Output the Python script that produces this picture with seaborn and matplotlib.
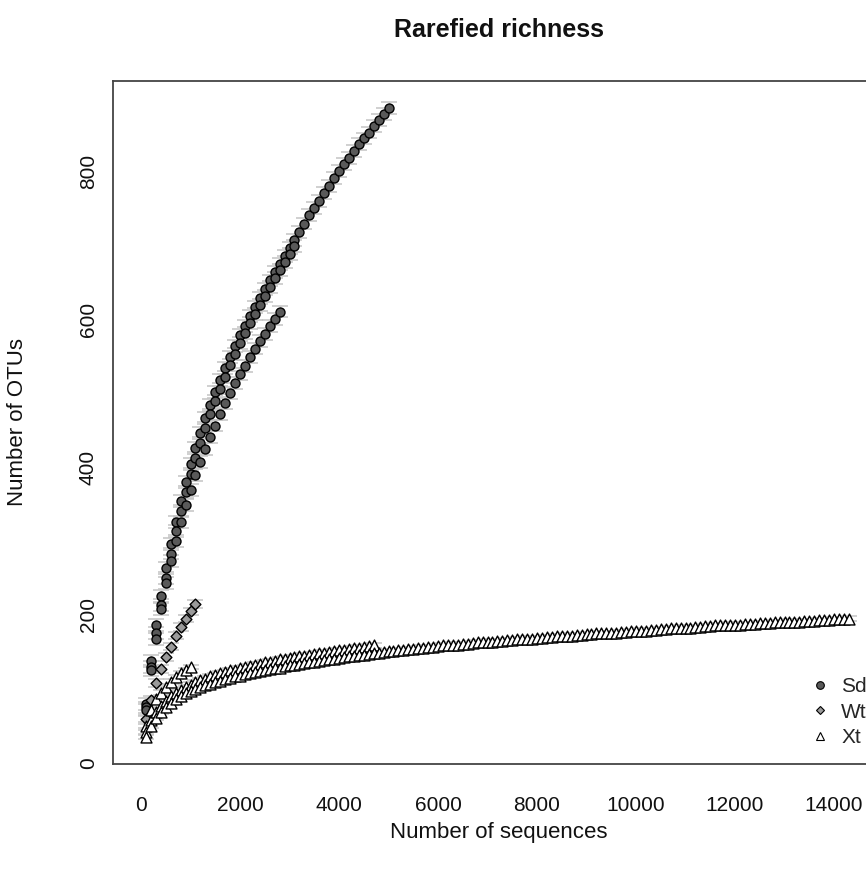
import matplotlib
matplotlib.use("Agg")
import matplotlib.pyplot as plt
from matplotlib.lines import Line2D
import pandas as pd
import seaborn as sns

# ---------------- data ----------------
depths = [
    100, 200, 300, 400, 500, 600, 700, 800, 900, 1000,
    1100, 1200, 1300, 1400, 1500, 1600, 1700, 1800, 1900, 2000,
    2100, 2200, 2300, 2400, 2500, 2600, 2700, 2800, 2900, 3000,
    3100, 3200, 3300, 3400, 3500, 3600, 3700, 3800, 3900, 4000,
    4100, 4200, 4300, 4400, 4500, 4600, 4700, 4800, 4900, 5000,
    5100, 5200, 5300, 5400, 5500, 5600, 5700, 5800, 5900, 6000,
    6100, 6200, 6300, 6400, 6500, 6600, 6700, 6800, 6900, 7000,
    7100, 7200, 7300, 7400, 7500, 7600, 7700, 7800, 7900, 8000,
    8100, 8200, 8300, 8400, 8500, 8600, 8700, 8800, 8900, 9000,
    9100, 9200, 9300, 9400, 9500, 9600, 9700, 9800, 9900, 10000,
    10100, 10200, 10300, 10400, 10500, 10600, 10700, 10800, 10900, 11000,
    11100, 11200, 11300, 11400, 11500, 11600, 11700, 11800, 11900, 12000,
    12100, 12200, 12300, 12400, 12500, 12600, 12700, 12800, 12900, 13000,
    13100, 13200, 13300, 13400, 13500, 13600, 13700, 13800, 13900, 14000,
    14100, 14200, 14300,
]

sd_1 = [80, 138, 186, 226, 263, 296, 326, 354, 380, 404,
        426, 446, 466, 484, 501, 518, 534, 549, 564, 578,
        591, 604, 616, 628, 640, 652, 663, 674, 685, 696,
        707, 718, 729, 740, 750, 760, 770, 780, 790, 800,
        809, 818, 827, 836, 844, 852, 861, 869, 877, 885]
sd_2 = [75, 130, 176, 213, 250, 283, 313, 340, 366, 390,
        412, 433, 453, 471, 489, 506, 522, 538, 553, 567,
        581, 594, 607, 619, 631, 643, 655, 666, 677, 688,
        699]
sd_3 = [72, 125, 167, 208, 243, 273, 300, 326, 349, 369,
        389, 407, 424, 441, 456, 471, 486, 500, 513, 526,
        537, 549, 560, 570, 580, 590, 600, 610]
wt_1 = [60, 85, 108, 127, 143, 157, 172, 184, 195, 205, 215]
xt_1 = [50, 72, 86, 95, 103, 110, 116, 121, 126, 130]
xt_2 = [42, 58, 69, 77, 84, 90, 95, 99, 103, 106,
        109, 112, 114, 117, 119, 121, 123, 125, 126, 128,
        130, 131, 133, 134, 136, 137, 138, 140, 141, 142,
        143, 144, 145, 146, 147, 148, 149, 150, 151, 152,
        153, 154, 155, 156, 157, 158, 159]
xt_3 = [35, 50, 61, 69, 76, 81, 86, 90, 94, 97,
        100, 103, 105, 107, 109, 111, 113, 115, 117, 118,
        120, 121, 123, 124, 126, 127, 128, 129, 131, 132,
        133, 134, 135, 136, 137, 138, 139, 140, 141, 142,
        143, 144, 145, 146, 146, 147, 148, 149, 150, 151,
        151, 152, 153, 154, 154, 155, 156, 157, 157, 158,
        159, 159, 160, 160, 161, 161, 162, 163, 163, 164,
        164, 165, 165, 166, 166, 167, 167, 168, 168, 169,
        169, 170, 170, 171, 171, 172, 172, 173, 173, 174,
        174, 175, 175, 176, 176, 176, 177, 177, 178, 178,
        179, 179, 180, 180, 181, 181, 182, 182, 183, 183,
        183, 184, 184, 185, 185, 186, 186, 186, 187, 187,
        187, 188, 188, 188, 189, 189, 189, 190, 190, 190,
        191, 191, 191, 192, 192, 192, 193, 193, 193, 194,
        194, 194, 195]

groups = ["Sd", "Wt", "Xt"]
ci_half = {"Sd": 8, "Wt": 5, "Xt": 3}   # approx. confidence half-width (OTUs)
x_ticks = [0, 2000, 4000, 6000, 8000, 10000, 12000, 14000]
y_ticks = [0, 200, 400, 600, 800]

curves = [("Sd", "Sd_1", sd_1), ("Sd", "Sd_2", sd_2), ("Sd", "Sd_3", sd_3),
          ("Wt", "Wt_1", wt_1),
          ("Xt", "Xt_1", xt_1), ("Xt", "Xt_2", xt_2), ("Xt", "Xt_3", xt_3)]
rows = []
for g, name, ys in curves:
    for d, v in zip(depths, ys):
        rows.append((g, name, d, v))
df = pd.DataFrame(rows, columns=["group", "sample", "depth", "otus"])

# ---------------- styling ----------------
sns.set_style("white")
plt.rcParams["font.family"] = ["Liberation Sans", "DejaVu Sans"]

markers = {"Sd": "o", "Wt": "D", "Xt": "^"}
fills = {"Sd": "#595959", "Wt": "#9a9a9a", "Xt": "#ffffff"}
sizes = {"Sd": 42, "Wt": 30, "Xt": 62}

W, H = 866, 871
fig = plt.figure(figsize=(W / 100, H / 100), dpi=100)
ax = fig.add_axes([113 / W, 1 - 764 / H, 772 / W, 683 / H])

for g in groups:
    sub = df[df.group == g]
    ax.errorbar(sub.depth, sub.otus, yerr=ci_half[g], fmt="none",
                ecolor="#c4c4c4", elinewidth=0.6, capsize=6, capthick=1.1,
                zorder=1)

for i, g in enumerate(groups):
    sub = df[df.group == g]
    sns.scatterplot(data=sub, x="depth", y="otus", marker=markers[g],
                    color=fills[g], edgecolor="black", linewidth=1.0,
                    s=sizes[g], legend=False, ax=ax, zorder=3 + i)

ax.set_xlim(-566, 15030)
ax.set_ylim(-1.4, 921.6)
ax.set_xticks(x_ticks)
ax.set_xticklabels([str(t) for t in x_ticks])
ax.set_yticks(y_ticks)
ax.set_yticklabels([str(t) for t in y_ticks], rotation=90, va="center")
ax.tick_params(axis="both", direction="out", length=10, width=1.1,
               color="#333333", labelsize=15, labelcolor="#111111")
ax.tick_params(axis="x", pad=13)
ax.tick_params(axis="y", pad=1)
for sp in ax.spines.values():
    sp.set_color("#444444")
    sp.set_linewidth(1.3)
ax.set_xlabel("")
ax.set_ylabel("")

fig.text(499 / W, 1 - 30 / H, "Rarefied richness", ha="center", va="center",
         fontsize=18, fontweight="bold", color="#111111")
fig.text(499 / W, 1 - 832 / H, "Number of sequences", ha="center",
         va="center", fontsize=16, color="#111111")
fig.text(18 / W, 1 - 422 / H, "Number of OTUs", ha="center", va="center",
         rotation=90, fontsize=16, color="#111111")

handles = [Line2D([], [], ls="", marker="o", mfc=fills["Sd"], mec="black",
                  mew=0.8, ms=5.5),
           Line2D([], [], ls="", marker="D", mfc=fills["Wt"], mec="black",
                  mew=0.8, ms=4.5),
           Line2D([], [], ls="", marker="^", mfc=fills["Xt"], mec="black",
                  mew=0.8, ms=6)]
fig.legend(handles, groups, loc="upper left",
           bbox_to_anchor=(810 / W, 1 - 677 / H), frameon=False,
           fontsize=15, handlelength=1.0, handletextpad=0.5,
           labelspacing=0.32, borderpad=0, borderaxespad=0)

fig.savefig("out.png", dpi=100)
